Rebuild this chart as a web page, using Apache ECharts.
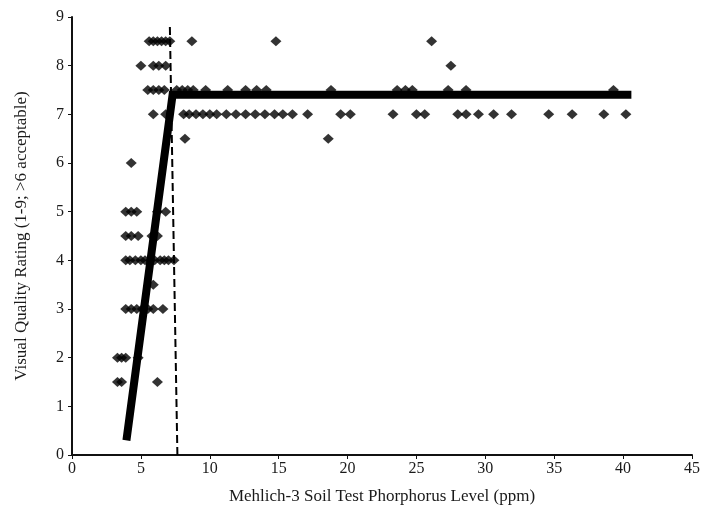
<!DOCTYPE html>
<html lang="en">
<head>
    <meta charset="UTF-8">
    <title>Visual quality vs soil P</title>
    <script src="https://cdn.jsdelivr.net/npm/echarts@6/dist/echarts.min.js"></script>
</head>
<body style="margin:0;background:#fff">
<div id="main" style="width: 705px;height: 516px"></div>
<script type="text/javascript">
    // rating levels and the soil P values observed at each level
    var ratingLevels = [8.5, 8, 7.5, 7, 6.5, 6, 5, 4.5, 4, 3.5, 3, 2, 1.5];
    var phosphorusAtLevel = [
        [5.6, 5.9, 6.2, 6.5, 6.8, 7.1, 8.7, 14.8, 26.1],
        [5.0, 5.9, 6.3, 6.8, 27.5],
        [5.5, 5.9, 6.3, 6.7, 7.6, 8.0, 8.4, 8.8, 9.7, 11.3, 12.6, 13.4, 14.1, 18.8, 23.6, 24.2, 24.7, 27.3, 28.6, 39.3],
        [5.9, 6.8, 8.1, 8.5, 9.0, 9.5, 10.0, 10.5, 11.2, 11.9, 12.6, 13.3, 14.0, 14.7, 15.3, 16.0, 17.1, 19.5, 20.2, 23.3, 25.0, 25.6, 28.0, 28.6, 29.5, 30.6, 31.9, 34.6, 36.3, 38.6, 40.2],
        [8.2, 18.6],
        [4.3],
        [3.9, 4.3, 4.7, 6.2, 6.8],
        [3.9, 4.3, 4.8, 5.8, 6.2],
        [3.9, 4.2, 4.6, 5.0, 5.3, 5.7, 6.0, 6.4, 6.7, 7.0, 7.4],
        [5.9],
        [3.9, 4.3, 4.7, 5.1, 5.5, 5.9, 6.6],
        [3.3, 3.6, 3.9, 4.8],
        [3.3, 3.6, 6.2]
    ];
    // linear-plateau fit
    var fitX = [3.95, 7.3, 40.6];
    var fitY = [0.3, 7.4, 7.4];
    // critical level (dashed)
    var criticalX = [7.65, 7.1];
    var criticalY = [0, 8.85];

    var points = [];
    for (var i = 0; i < ratingLevels.length; i++) {
        for (var j = 0; j < phosphorusAtLevel[i].length; j++) {
            points.push([phosphorusAtLevel[i][j], ratingLevels[i]]);
        }
    }
    var fitLine = fitX.map(function (x, k) { return [x, fitY[k]]; });
    var criticalLine = criticalX.map(function (x, k) { return [x, criticalY[k]]; });

    var serif = 'Liberation Serif';
    var myChart = echarts.init(document.getElementById('main'));
    var option = {
        animation: false,
        backgroundColor: '#fff',
        grid: {left: 72, right: 13, top: 17, bottom: 61},
        xAxis: {
            type: 'value',
            min: 0, max: 45, interval: 5,
            name: 'Mehlich-3 Soil Test Phorphorus Level (ppm)',
            nameLocation: 'middle',
            nameGap: 33,
            nameTextStyle: {fontFamily: serif, fontSize: 17, color: '#1a1a1a'},
            axisLine: {lineStyle: {color: '#111', width: 2}},
            axisTick: {show: true, length: 4, lineStyle: {color: '#111'}},
            axisLabel: {fontFamily: serif, fontSize: 16, color: '#1a1a1a', margin: 6},
            splitLine: {show: false}
        },
        yAxis: {
            type: 'value',
            min: 0, max: 9, interval: 1,
            name: 'Visual Quality Rating (1-9; >6 acceptable)',
            nameLocation: 'middle',
            nameGap: 42,
            nameTextStyle: {fontFamily: serif, fontSize: 17, color: '#1a1a1a'},
            axisLine: {show: true, lineStyle: {color: '#111', width: 2}},
            axisTick: {show: true, length: 4, lineStyle: {color: '#111'}},
            axisLabel: {fontFamily: serif, fontSize: 16, color: '#1a1a1a', margin: 8},
            splitLine: {show: false}
        },
        series: [
            {
                type: 'scatter',
                data: points,
                symbol: 'diamond',
                symbolSize: [11, 10],
                itemStyle: {color: '#000'},
                z: 3
            },
            {
                type: 'line',
                data: fitLine,
                symbol: 'none',
                lineStyle: {color: '#000', width: 8, cap: 'butt', join: 'miter'},
                z: 4
            },
            {
                type: 'line',
                data: criticalLine,
                symbol: 'none',
                lineStyle: {color: '#000', width: 2, type: [8, 4]},
                z: 2
            }
        ]
    };
    myChart.setOption(option);
</script>
</body>
</html>
